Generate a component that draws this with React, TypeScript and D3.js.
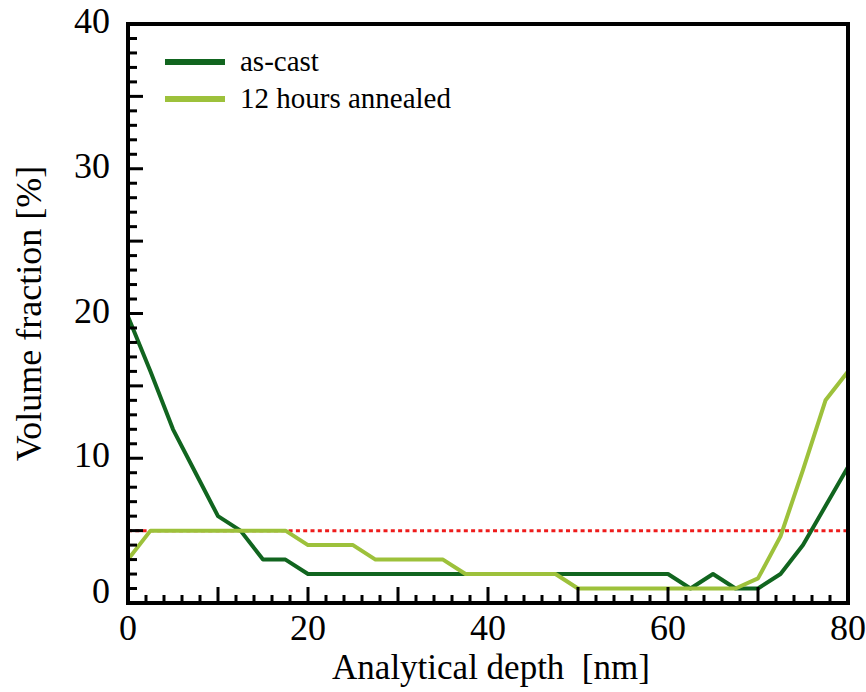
import React from "react";
import * as d3 from "d3";

// depth [nm], sampled every 2.5 nm
const depth = d3.range(0, 80.01, 2.5);

const asCast = [
  19.8, 16, 12, 9, 6, 5, 3, 3, 2, 2, 2, 2, 2, 2, 2, 2, 2,
  2, 2, 2, 2, 2, 2, 2, 2, 1, 2, 1, 1, 2, 4, 6.7, 9.4,
];
const annealed = [
  3, 5, 5, 5, 5, 5, 5, 5, 4, 4, 4, 3, 3, 3, 3, 2, 2,
  2, 2, 2, 1, 1, 1, 1, 1, 1, 1, 1, 1.7, 4.6, 9.2, 14, 16,
];

const seriesNames = ["as-cast", "12 hours annealed"];
const seriesColors = ["#11651f", "#9dc13b"];
const thresholdValue = 5;

const xTickLabels = [0, 20, 40, 60, 80];
const yTickLabels = [0, 10, 20, 30, 40];

const W = 866;
const H = 692;
const margin = { left: 128, right: 18, top: 24, bottom: 89 };

const txt: React.CSSProperties = {
  fontFamily: '"Liberation Serif", "Times New Roman", Times, serif',
};

export default function App() {
  const x = d3.scaleLinear().domain([0, 80]).range([margin.left, W - margin.right]);
  const y = d3.scaleLinear().domain([0, 40]).range([H - margin.bottom, margin.top]);

  const line = d3
    .line<number>()
    .x((_, i) => x(depth[i]))
    .y((d) => y(d));

  const xTicks = d3.range(0, 80, 2);
  const yTicks = d3.range(0, 40, 1);

  const x0 = x(0);
  const x1 = x(80);
  const y0 = y(0);
  const y1 = y(40);

  return (
    <svg width={W} height={H} style={{ position: "absolute", left: 0, top: 0, background: "#fff" }}>
      {/* threshold */}
      <line
        x1={x0}
        x2={x1}
        y1={y(thresholdValue)}
        y2={y(thresholdValue)}
        stroke="#ee1c1c"
        strokeWidth={3}
        strokeDasharray="4 3.3"
      />

      {/* series */}
      {[asCast, annealed].map((s, i) => (
        <path
          key={i}
          d={line(s) || ""}
          fill="none"
          stroke={seriesColors[i]}
          strokeWidth={4}
          strokeLinejoin="round"
        />
      ))}

      {/* ticks, pointing inward */}
      {xTicks.map((t) => (
        <line
          key={"xt" + t}
          x1={x(t)}
          x2={x(t)}
          y1={y0}
          y2={y0 - (t % 10 === 0 ? 16 : 8)}
          stroke="#000"
          strokeWidth={3}
        />
      ))}
      {yTicks.map((t) => (
        <line
          key={"yt" + t}
          x1={x0}
          x2={x0 + (t % 5 === 0 ? 15 : 9)}
          y1={y(t)}
          y2={y(t)}
          stroke="#000"
          strokeWidth={3}
        />
      ))}

      {/* frame */}
      <rect x={x0} y={y1} width={x1 - x0} height={y0 - y1} fill="none" stroke="#000" strokeWidth={4} />

      {/* tick labels */}
      {xTickLabels.map((t) => (
        <text key={"xl" + t} x={x(t)} y={y0 + 37} textAnchor="middle" fontSize={36} style={txt}>
          {t}
        </text>
      ))}
      {yTickLabels.map((t) => (
        <text
          key={"yl" + t}
          x={110}
          y={y(t) + (t === 0 ? 0 : 9)}
          textAnchor="end"
          fontSize={36}
          style={txt}
        >
          {t}
        </text>
      ))}

      {/* axis titles */}
      <text
        x={(x0 + x1) / 2 + 3}
        y={679}
        textAnchor="middle"
        fontSize={35}
        style={{ ...txt, whiteSpace: "pre" }}
      >
        {"Analytical depth  [nm]"}
      </text>
      <text
        transform={`translate(41, ${(y0 + y1) / 2}) rotate(-90)`}
        textAnchor="middle"
        fontSize={36}
        style={txt}
      >
        Volume fraction [%]
      </text>

      {/* legend */}
      {seriesNames.map((name, i) => (
        <g key={name} transform={`translate(165, ${62 + i * 37})`}>
          <line x1={0} x2={60} y1={0} y2={0} stroke={seriesColors[i]} strokeWidth={6} />
          <text x={75} y={9} fontSize={29} style={txt}>
            {name}
          </text>
        </g>
      ))}
    </svg>
  );
}
